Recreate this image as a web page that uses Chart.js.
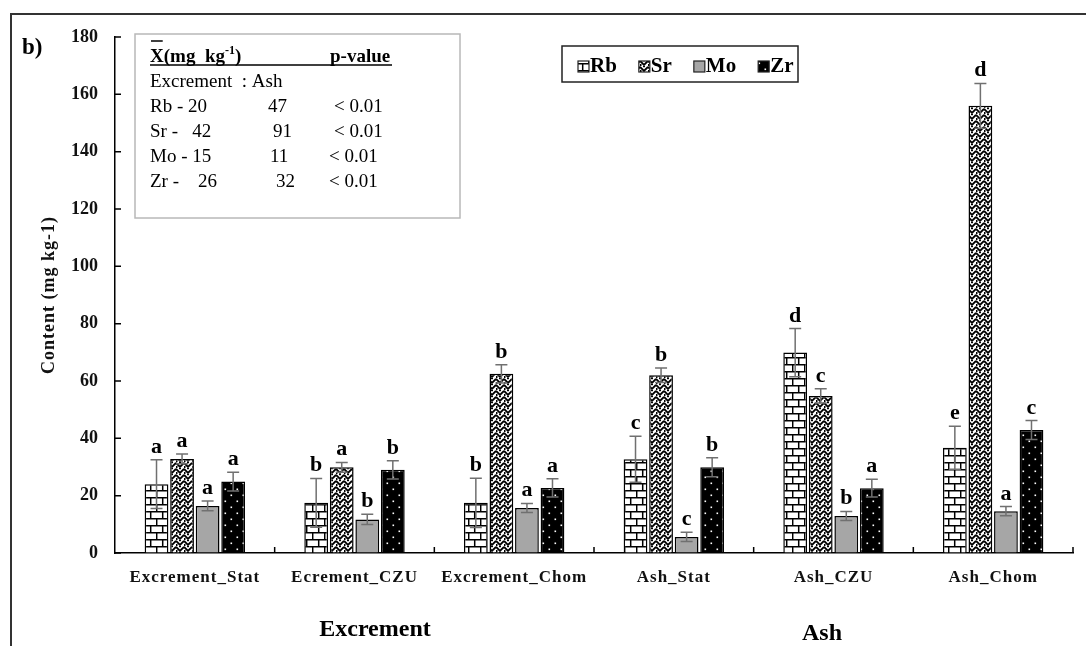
<!DOCTYPE html>
<html>
<head>
<meta charset="utf-8">
<script src="https://cdn.jsdelivr.net/npm/chart.js@4"></script>
<style>
  html, body { margin: 0; padding: 0; background: #fff; }
  #wrap { position: relative; width: 1086px; height: 646px; }
</style>
</head>
<body>
<div id="wrap"><canvas id="chart"></canvas></div>
<script>
const categories = ['Excrement_Stat', 'Ecrement_CZU', 'Excrement_Chom', 'Ash_Stat', 'Ash_CZU', 'Ash_Chom'];
const seriesNames = ['Rb', 'Sr', 'Mo', 'Zr'];

const rbValues = [24, 17.5, 17.5, 32.7, 69.9, 36.7];
const rbSd = [8.5, 8.5, 8.6, 8, 8.4, 7.5];
const rbLetters = ['a', 'b', 'b', 'c', 'd', 'e'];

const srValues = [32.8, 29.9, 62.5, 62, 54.8, 156];
const srSd = [1.7, 1.7, 3.2, 2.5, 2.5, 7.8];
const srLetters = ['a', 'a', 'b', 'b', 'c', 'd'];

const moValues = [16.4, 11.7, 15.7, 5.6, 12.9, 14.6];
const moSd = [1.7, 1.8, 1.6, 1.6, 1.6, 1.6];
const moLetters = ['a', 'b', 'a', 'c', 'b', 'a'];

const zrValues = [24.9, 29, 22.7, 29.9, 22.6, 42.9];
const zrSd = [3.3, 3.2, 3.2, 3.3, 3.1, 3.3];
const zrLetters = ['a', 'b', 'a', 'b', 'a', 'c'];

const yTicks = [0, 20, 40, 60, 80, 100, 120, 140, 160, 180];
const groupNames = ['Excrement', 'Ash'];

// stats box text
const statHeader = ['X', '(mg  kg', '-1', ')', 'p-value'];
const statSubHeader = 'Excrement  : Ash';
const statRows = [
  ['Rb - 20', '47', '< 0.01'],
  ['Sr -   42', '91', '< 0.01'],
  ['Mo - 15', '11', '< 0.01'],
  ['Zr -    26', '32', '< 0.01']
];

const SERIF = '"Liberation Serif", "Times New Roman", serif';

function tile(w, h, paint) {
  const c = document.createElement('canvas');
  c.width = w; c.height = h;
  const g = c.getContext('2d');
  paint(g);
  return document.getElementById('chart').getContext('2d').createPattern(c, 'repeat');
}

// brick
const rbFill = tile(12, 14, g => {
  g.fillStyle = '#fff'; g.fillRect(0, 0, 12, 14);
  g.strokeStyle = '#000'; g.lineWidth = 1.5;
  g.beginPath();
  g.moveTo(0, 0.7); g.lineTo(12, 0.7);
  g.moveTo(0, 7.7); g.lineTo(12, 7.7);
  g.moveTo(0.7, 0); g.lineTo(0.7, 7.7);
  g.moveTo(6.7, 7.7); g.lineTo(6.7, 14);
  g.stroke();
});
// zigzag weave
const srFill = tile(8, 6, g => {
  g.fillStyle = '#fff'; g.fillRect(0, 0, 8, 6);
  g.strokeStyle = '#000'; g.lineWidth = 1.9;
  g.beginPath();
  g.moveTo(0, 0.8); g.lineTo(4, 4.8); g.lineTo(8, 0.8);
  g.stroke();
  g.fillStyle = '#000';
  g.fillRect(0, 4, 1.5, 2);
  g.fillRect(3, 0, 2, 1.2);
});
const moFill = '#a6a6a6';
// dots on black
const zrFill = tile(12, 12, g => {
  g.fillStyle = '#000'; g.fillRect(0, 0, 12, 12);
  g.fillStyle = '#fff';
  g.fillRect(2.5, 2.5, 1.6, 1.6);
  g.fillRect(8.5, 8.5, 1.6, 1.6);
});

const fills = [rbFill, srFill, moFill, zrFill];
const sds = [rbSd, srSd, moSd, zrSd];
const letters = [rbLetters, srLetters, moLetters, zrLetters];

const errorBars = {
  id: 'errorBars',
  afterDatasetsDraw(chart) {
    const ctx = chart.ctx;
    const y = chart.scales.y;
    ctx.save();
    ctx.letterSpacing = '0px';
    chart.data.datasets.forEach((ds, i) => {
      const meta = chart.getDatasetMeta(i);
      meta.data.forEach((bar, j) => {
        const v = ds.data[j], sd = sds[i][j];
        const top = y.getPixelForValue(v + sd);
        const bot = y.getPixelForValue(v - sd);
        ctx.strokeStyle = '#707070';
        ctx.lineWidth = 1.5;
        ctx.beginPath();
        ctx.moveTo(bar.x, top); ctx.lineTo(bar.x, bot);
        ctx.moveTo(bar.x - 6, top); ctx.lineTo(bar.x + 6, top);
        ctx.moveTo(bar.x - 6, bot); ctx.lineTo(bar.x + 6, bot);
        ctx.stroke();
      });
    });
    ctx.fillStyle = '#000';
    ctx.font = 'bold 22px ' + SERIF;
    ctx.textAlign = 'center';
    ctx.textBaseline = 'alphabetic';
    chart.data.datasets.forEach((ds, i) => {
      const meta = chart.getDatasetMeta(i);
      meta.data.forEach((bar, j) => {
        const top = y.getPixelForValue(ds.data[j] + sds[i][j]);
        ctx.fillText(letters[i][j], bar.x, top - 7);
      });
    });
    ctx.restore();
  }
};

const spacing = {
  id: 'spacing',
  beforeDraw(chart) { chart.ctx.letterSpacing = '1px'; },
  beforeDatasetsDraw(chart) { chart.ctx.letterSpacing = '0px'; }
};

const extras = {
  id: 'extras',
  afterDraw(chart) {
    const ctx = chart.ctx;
    const x = chart.scales.x, y = chart.scales.y;
    ctx.save();
    ctx.letterSpacing = '0px';

    // inward ticks
    ctx.strokeStyle = '#000';
    ctx.lineWidth = 1.5;
    ctx.beginPath();
    yTicks.forEach(t => {
      const py = y.getPixelForValue(t);
      ctx.moveTo(x.left, py); ctx.lineTo(x.left + 6, py);
    });
    const cw = (x.right - x.left) / categories.length;
    for (let i = 1; i <= categories.length; i++) {
      const px = x.left + i * cw;
      ctx.moveTo(px, y.bottom); ctx.lineTo(px, y.bottom - 6);
    }
    ctx.stroke();

    // frame
    ctx.strokeStyle = '#333';
    ctx.lineWidth = 2;
    ctx.beginPath();
    ctx.moveTo(11, 646); ctx.lineTo(11, 14); ctx.lineTo(1086, 14);
    ctx.stroke();

    // panel tag
    ctx.fillStyle = '#000';
    ctx.font = 'bold 23px ' + SERIF;
    ctx.textAlign = 'left';
    ctx.textBaseline = 'alphabetic';
    ctx.fillText('b)', 22, 54);

    // group names
    ctx.font = 'bold 24px ' + SERIF;
    ctx.textAlign = 'center';
    ctx.fillText(groupNames[0], 375, 636);
    ctx.fillText(groupNames[1], 822, 640);

    // stats box
    ctx.strokeStyle = '#b8b8b8';
    ctx.lineWidth = 1.5;
    ctx.strokeRect(135, 34, 325, 184);
    ctx.textAlign = 'left';
    ctx.font = 'bold 19px ' + SERIF;
    let hx = 150;
    ctx.fillText(statHeader[0], hx, 62);
    const xw = ctx.measureText(statHeader[0]).width;
    ctx.fillText(statHeader[1], hx + xw, 62);
    hx += xw + ctx.measureText(statHeader[1]).width;
    ctx.font = 'bold 12px ' + SERIF;
    ctx.fillText(statHeader[2], hx, 54);
    hx += ctx.measureText(statHeader[2]).width;
    ctx.font = 'bold 19px ' + SERIF;
    ctx.fillText(statHeader[3], hx, 62);
    ctx.fillText(statHeader[4], 330, 62);
    ctx.strokeStyle = '#000';
    ctx.lineWidth = 1.5;
    ctx.beginPath();
    ctx.moveTo(150, 65); ctx.lineTo(392, 65);
    ctx.moveTo(151, 41); ctx.lineTo(150 + xw - 1, 41);
    ctx.stroke();
    ctx.font = '19px ' + SERIF;
    ctx.fillText(statSubHeader, 150, 87);
    const rowCols = [[150, 268, 334], [150, 273, 334], [150, 270, 329], [150, 276, 329]];
    statRows.forEach((r, i) => {
      const by = 112 + i * 25;
      ctx.fillText(r[0], rowCols[i][0], by);
      ctx.fillText(r[1], rowCols[i][1], by);
      ctx.fillText(r[2], rowCols[i][2], by);
    });

    // legend
    ctx.strokeStyle = '#222';
    ctx.lineWidth = 1.5;
    ctx.strokeRect(562, 46, 236, 36);
    ctx.font = 'bold 21px ' + SERIF;
    let lx = 578;
    seriesNames.forEach((n, i) => {
      ctx.fillStyle = fills[i];
      ctx.fillRect(lx, 61, 11, 11);
      ctx.lineWidth = 1.2;
      ctx.strokeRect(lx, 61, 11, 11);
      ctx.fillStyle = '#000';
      ctx.fillText(n, lx + 12, 72);
      lx += 12 + ctx.measureText(n).width + 22;
    });
    ctx.restore();
  }
};

new Chart(document.getElementById('chart'), {
  type: 'bar',
  data: {
    labels: categories,
    datasets: [rbValues, srValues, moValues, zrValues].map((vals, i) => ({
      label: seriesNames[i],
      data: vals,
      backgroundColor: fills[i],
      borderColor: '#000',
      borderWidth: 1.5,
      borderSkipped: 'bottom',
      categoryPercentage: 0.64,
      barPercentage: 0.93
    }))
  },
  options: {
    responsive: true,
    maintainAspectRatio: false,
    animation: false,
    layout: { padding: { left: 0, top: 37, right: 13, bottom: 0 } },
    plugins: {
      legend: { display: false },
      tooltip: { enabled: false }
    },
    scales: {
      x: {
        grid: { drawOnChartArea: false, drawTicks: false },
        border: { color: '#000', width: 1.5 },
        ticks: {
          color: '#111',
          font: { family: SERIF, size: 17, weight: 'bold' },
          padding: 14,
          maxRotation: 0,
          autoSkip: false
        },
        afterFit: s => { s.height = 93; }
      },
      y: {
        min: 0,
        max: 180,
        grid: { drawOnChartArea: false, drawTicks: false },
        border: { color: '#000', width: 1.5 },
        ticks: {
          stepSize: 20,
          color: '#111',
          font: { family: SERIF, size: 18, weight: 'bold' },
          padding: 17,
          z: 1
        },
        title: {
          display: true,
          text: 'Content (mg kg-1)',
          color: '#111',
          font: { family: SERIF, size: 18, weight: 'bold' },
          padding: { top: 39, bottom: 0 }
        },
        afterFit: s => { s.width = 115; }
      }
    }
  },
  plugins: [spacing, errorBars, extras]
});
</script>
</body>
</html>
